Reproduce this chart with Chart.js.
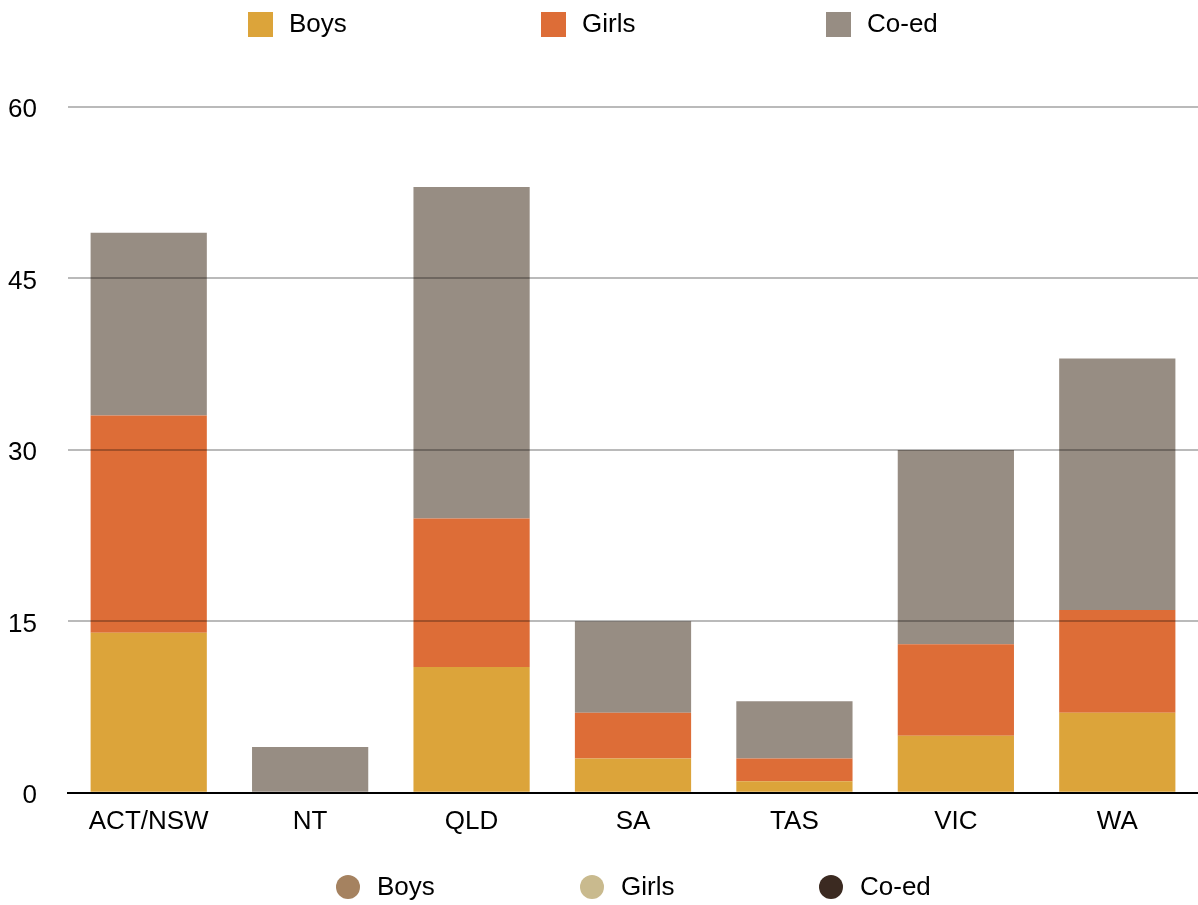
<!DOCTYPE html>
<html>
<head>
<meta charset="utf-8">
<script src="https://cdn.jsdelivr.net/npm/chart.js@4"></script>
<style>
  html, body { margin: 0; padding: 0; background: #fff; }
  #wrap { width: 1198px; height: 905px; }
</style>
</head>
<body>
<div id="wrap"><canvas id="schoolsChart" width="1198" height="905"></canvas></div>
<script>
// data
const states = ["ACT/NSW", "NT", "QLD", "SA", "TAS", "VIC", "WA"];
const boys = [14, 0, 11, 3, 1, 5, 7];
const girls = [19, 0, 13, 4, 2, 8, 9];
const coed = [16, 4, 29, 8, 5, 17, 22];
const yTicks = [0, 15, 30, 45, 60];

const seriesNames = ["Boys", "Girls", "Co-ed"];
const barColors = ["#dca43a", "#dd6d37", "#978d83"];
const dotColors = ["#a58260", "#c9ba8e", "#3b2a21"];

const FAMILY = "'Liberation Sans', Arial, Helvetica, sans-serif";

// two legends drawn by hand: squares on top, dots at the bottom
const legendsPlugin = {
  id: "twoLegends",
  afterDraw(chart) {
    const ctx = chart.ctx;
    ctx.save();
    ctx.font = "26px " + FAMILY;
    ctx.textBaseline = "middle";
    const topX = [248, 541, 826];
    seriesNames.forEach((name, i) => {
      ctx.fillStyle = barColors[i];
      ctx.fillRect(topX[i], 12, 25, 25);
      ctx.fillStyle = "#000";
      ctx.fillText(name, topX[i] + 41, 25);
    });
    const botX = [348, 592, 831];
    seriesNames.forEach((name, i) => {
      ctx.fillStyle = dotColors[i];
      ctx.beginPath();
      ctx.arc(botX[i], 887, 12, 0, Math.PI * 2);
      ctx.fill();
      ctx.fillStyle = "#000";
      ctx.fillText(name, botX[i] + 29, 888);
    });
    ctx.restore();
  },
};

const datasets = [boys, girls, coed].map((vals, i) => ({
  label: seriesNames[i],
  data: vals,
  backgroundColor: barColors[i],
  borderWidth: 0,
  categoryPercentage: 1,
  barPercentage: 0.72,
}));

new Chart(document.getElementById("schoolsChart").getContext("2d"), {
  type: "bar",
  data: { labels: states, datasets: datasets },
  options: {
    responsive: false,
    animation: false,
    devicePixelRatio: 1,
    layout: { padding: { top: 107, left: 8, right: 0, bottom: 63 } },
    plugins: { legend: { display: false }, tooltip: { enabled: false } },
    scales: {
      x: {
        stacked: true,
        grid: { display: false },
        border: { display: true, color: "#000", width: 2 },
        ticks: { color: "#000", font: { size: 26, family: FAMILY }, padding: 5 },
      },
      y: {
        stacked: true,
        min: 0,
        max: 60,
        afterBuildTicks: (axis) => { axis.ticks = yTicks.map((v) => ({ value: v })); },
        afterFit: (axis) => { axis.width = 60; },
        grid: {
          z: 1,
          drawTicks: false,
          lineWidth: 2,
          color: (c) => (c.tick && c.tick.value === 0 ? "#000" : "rgba(0,0,0,0.27)"),
        },
        border: { display: false },
        ticks: { color: "#000", font: { size: 26, family: FAMILY }, padding: 31, labelOffset: 3 },
      },
    },
  },
  plugins: [legendsPlugin],
});
</script>
</body>
</html>
